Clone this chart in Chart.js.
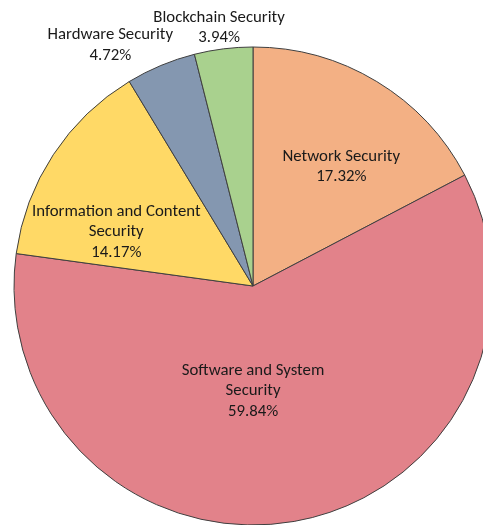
<!DOCTYPE html>
<html>
<head>
<meta charset="utf-8">
<script src="https://cdn.jsdelivr.net/npm/chart.js@4"></script>
<style>
  html, body { margin: 0; padding: 0; background: #fff; overflow: hidden; }
  #wrap { width: 483px; height: 525px; position: relative; }
</style>
</head>
<body>
<div id="wrap"><canvas id="pieChart"></canvas></div>
<script>
const categories = ['Network Security', 'Software and System Security', 'Information and Content Security', 'Hardware Security', 'Blockchain Security'];
const shares = [17.32, 59.84, 14.17, 4.72, 3.94];
const labelLines = [
  ['Network Security'],
  ['Software and System', 'Security'],
  ['Information and Content', 'Security'],
  ['Hardware Security'],
  ['Blockchain Security']
];

const colors = ['#F3B084', '#E2828A', '#FFD966', '#8497B0', '#A9D18E'];
// where each label sits: fraction of radius along the slice, plus a small angle nudge (deg)
const labelRadius = [0.62, 0.44, 0.615, 1.17, 1.09];
const labelTurn = [5.4, 9.9, -11.8, -8, -0.4];

/* draws the two/three-line labels from each arc's geometry */
const sliceLabels = {
  id: 'sliceLabels',
  afterDatasetsDraw(chart) {
    const ctx = chart.ctx;
    const arcs = chart.getDatasetMeta(0).data;
    ctx.save();
    ctx.font = '16.8px Carlito, Lato, "Open Sans", sans-serif';
    ctx.fillStyle = '#1a1a1a';
    ctx.textAlign = 'center';
    ctx.textBaseline = 'middle';
    arcs.forEach((arc, i) => {
      const p = arc.getProps(['x', 'y', 'startAngle', 'endAngle', 'outerRadius'], true);
      const mid = (p.startAngle + p.endAngle) / 2 + labelTurn[i] * Math.PI / 180;
      const r = p.outerRadius * labelRadius[i];
      const cx = p.x + Math.cos(mid) * r;
      const cy = p.y + Math.sin(mid) * r;
      const lines = labelLines[i].concat([shares[i].toFixed(2) + '%']);
      const lh = 20.5;
      const top = cy - (lines.length - 1) * lh / 2;
      lines.forEach((t, k) => ctx.fillText(t, cx, top + k * lh));
    });
    ctx.restore();
  }
};

new Chart(document.getElementById('pieChart'), {
  type: 'pie',
  data: {
    labels: categories,
    datasets: [{
      data: shares,
      backgroundColor: colors,
      borderColor: '#3f3f3f',
      borderWidth: 1,
      radius: 239,
      clip: false
    }]
  },
  options: {
    responsive: true,
    maintainAspectRatio: false,
    animation: false,
    layout: { padding: { left: 23, top: 47, right: 0, bottom: 0 } },
    plugins: {
      legend: { display: false },
      tooltip: { enabled: false }
    }
  },
  plugins: [sliceLabels]
});
</script>
</body>
</html>
